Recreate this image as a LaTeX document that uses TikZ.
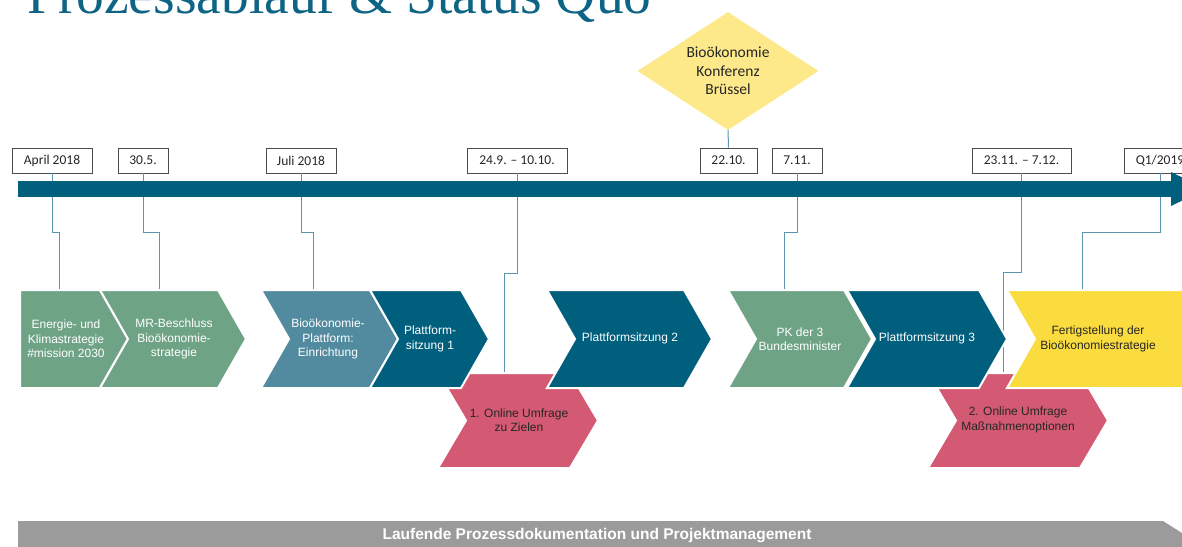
\documentclass[tikz,border=0pt]{standalone}
\usepackage{fontspec}
\setmainfont{Liberation Sans}
\newfontfamily\calibri{Carlito}
\newfontfamily\titlefont{Liberation Serif}
\usetikzlibrary{shapes.geometric,positioning}

\definecolor{barteal}{HTML}{005F7D}
\definecolor{chgreen}{HTML}{6FA386}
\definecolor{chsteel}{HTML}{528BA0}
\definecolor{chpink}{HTML}{D35A72}
\definecolor{chyellow}{HTML}{FBDC3F}
\definecolor{konfyellow}{HTML}{FDE98A}
\definecolor{connblue}{HTML}{5B95AE}
\definecolor{titleteal}{HTML}{0E6484}
\definecolor{docgray}{HTML}{9B9B9B}

% chevron with notch: colour, left x, right x, top y, bottom y
\newcommand{\chevpath}[5]{%
  \fill[#1, draw=white, line width=2pt] (#2,#4) -- (#3,#4) -- ({#3+28},{(#4+#5)/2})
    -- (#3,#5) -- (#2,#5) -- ({#2+28},{(#4+#5)/2}) -- cycle;}

\begin{document}
\begin{tikzpicture}[x=1pt,y=-1pt,
    datebox/.style={draw=black!70, fill=white, line width=0.8pt, inner sep=0pt,
      minimum height=25pt, text=black!85, font=\calibri\fontsize{13.5}{16}\selectfont},
    chevtext/.style={align=center, inner sep=0pt, text=white,
      font=\fontsize{12}{14.5}\selectfont},
    darktext/.style={chevtext, text=black!85},
    conn/.style={draw=connblue, line width=1pt}]

  \useasboundingbox (0,0) rectangle (1182,546);
  \clip (0,0) rectangle (1182,546);

  % title (cut at the top)
  \node[anchor=base west, inner sep=0pt, text=titleteal,
    font=\titlefont\fontsize{55.5}{60}\selectfont] (title) at (27,13) {Prozessablauf \& Status Quo};

  % conference
  \node[diamond, aspect=1.53, fill=konfyellow, minimum width=181pt, minimum height=118pt, inner sep=0pt,
    align=center, text=black!85, font=\calibri\fontsize{15.5}{18.5}\selectfont] (konf) at (728,71)
    {Bioökonomie\\Konferenz\\Brüssel};

  % dates
  \node[datebox, minimum width=80pt] (apr) at (52,160.5) {April 2018};
  \node[datebox, minimum width=50pt] (mai) at (143,160.5) {30.5.};
  \node[datebox, minimum width=70pt] (jul) at (301,160.5) {Juli 2018};
  \node[datebox, minimum width=100pt] (sep) at (517,160.5) {24.9. – 10.10.};
  \node[datebox, minimum width=57pt] (okt) at (728.5,160.5) {22.10.};
  \node[datebox, minimum width=50pt] (nov) at (797,160.5) {7.11.};
  \node[datebox, minimum width=99pt] (dez) at (1021.5,160.5) {23.11. – 7.12.};
  \node[datebox, minimum width=72pt] (qone) at (1160,160.5) {Q1/2019};

  % attachment points on the chevrons
  \coordinate (energietop) at (59,290);
  \coordinate (mrtop) at (159,290);
  \coordinate (plattformtop) at (313,290);
  \coordinate (umfrageatop) at (504,373);
  \coordinate (pktop) at (784,290);
  \coordinate (umfragebtop) at (1003,373);
  \coordinate (fertigtop) at (1082,290);

  % connectors
  \draw[conn] (konf.south) -- (okt.north);
  \draw[conn] (apr.south) -- ++(0,59) -| (energietop);
  \draw[conn] (mai.south) -- ++(0,59) -| (mrtop);
  \draw[conn] (jul.south) -- ++(0,59) -| (plattformtop);
  \draw[conn] (sep.south) -- ++(0,100) -| (umfrageatop);
  \draw[conn] (nov.south) -- ++(0,59) -| (pktop);
  \draw[conn] (dez.south) -- ++(0,99) -| (umfragebtop);
  \draw[conn] (qone.south) -- ++(0,59) -| (fertigtop);

  % time line
  \fill[barteal] (18,181) rectangle (1172,197);
  \fill[barteal] (1171,172) -- (1206,189) -- (1171,206) -- cycle;

  % surveys
  \chevpath{chpink}{438}{570}{373}{468}
  \chevpath{chpink}{928}{1080}{373}{468}

  % steps
  \fill[chgreen, draw=white, line width=2pt] (20,290) -- (100,290) -- (128,339) -- (100,388) -- (20,388) -- cycle;
  \chevpath{chgreen}{100}{218}{290}{388}
  \chevpath{chsteel}{261}{370}{290}{388}
  \chevpath{barteal}{370}{461}{290}{388}
  \chevpath{barteal}{547}{684}{290}{388}
  \chevpath{chgreen}{728}{844}{290}{388}
  \chevpath{barteal}{847}{979}{290}{388}
  \chevpath{chyellow}{1007}{1260}{290}{388}

  \node[chevtext] (energie) at (66,339) {Energie- und\\Klimastrategie\\\#mission 2030};
  \node[chevtext] (mr) at (174,339) {MR-Beschluss\\Bioökonomie-\\strategie};
  \node[chevtext] (plattform) at (328,339) {Bioökonomie-\\Plattform:\\Einrichtung};
  \node[chevtext] (sitzungeins) at (430,339) {Plattform-\\sitzung 1};
  \node[chevtext] (sitzungzwei) at (630,338) {Plattformsitzung 2};
  \node[chevtext] (pk) at (800,339) {PK der 3\\Bundesminister};
  \node[chevtext] (sitzungdrei) at (927,338) {Plattformsitzung 3};
  \node[darktext] (fertig) at (1098,339) {Fertigstellung der\\Bioökonomiestrategie};
  \node[darktext] (umfragea) at (519,420) {1. Online Umfrage\\zu Zielen};
  \node[darktext] (umfrageb) at (1018,420) {2. Online Umfrage\\Maßnahmenoptionen};

  % documentation
  \fill[docgray] (18,521) -- (1163,521) -- (1193,540) -- (1163,559) -- (18,559) -- cycle;
  \node[inner sep=0pt, text=white, font=\bfseries\fontsize{15.5}{18}\selectfont] (doku) at (597,536)
    {Laufende Prozessdokumentation und Projektmanagement};
\end{tikzpicture}
\end{document}
